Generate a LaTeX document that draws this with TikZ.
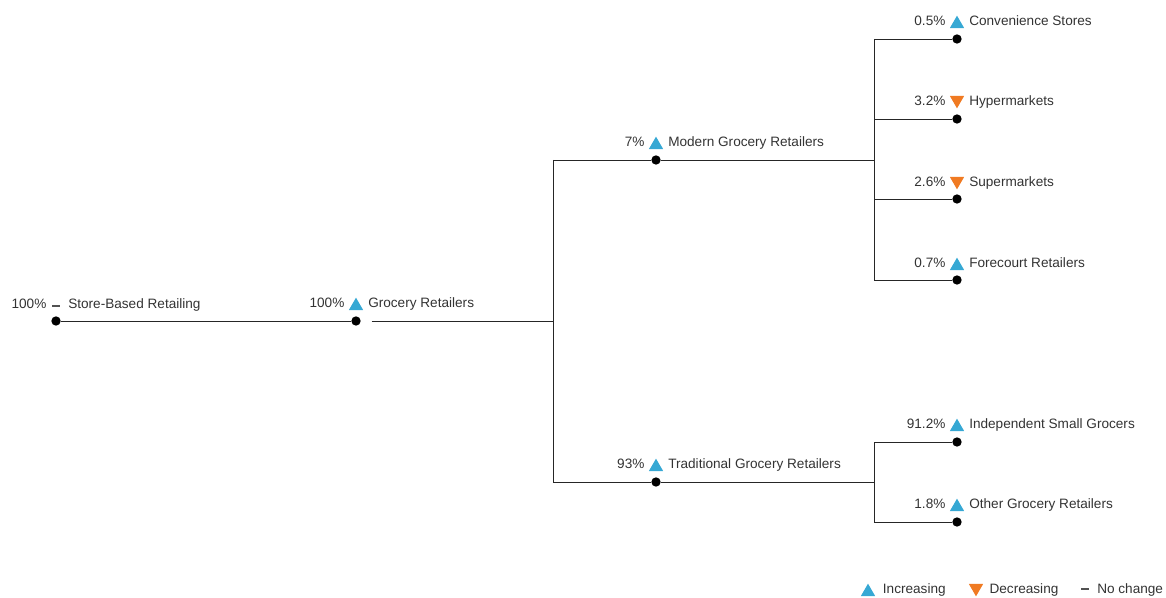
\documentclass[tikz,border=0pt]{standalone}
\usepackage{fontspec}
\setmainfont{Liberation Sans}
\usetikzlibrary{positioning,shapes.geometric}
\definecolor{incblue}{HTML}{36A8D4}
\definecolor{decorange}{HTML}{F07A22}
\definecolor{txtgray}{HTML}{333333}

\begin{document}
\begin{tikzpicture}[x=0.75pt,y=0.75pt,yscale=-1,xscale=1,
  dot/.style={circle,fill=black,inner sep=0pt,minimum size=7pt},
  link/.style={draw=black!85,line width=0.7pt},
  incr/.style={regular polygon,regular polygon sides=3,fill=incblue,inner sep=0pt,minimum size=12.5pt},
  decr/.style={incr,fill=decorange,shape border rotate=180},
  nochg/.style={rectangle,fill=txtgray!85,inner sep=0pt,minimum width=6pt,minimum height=1.2pt},
  txt/.style={font=\fontsize{10.2}{12}\selectfont,text=txtgray,inner sep=0pt,text height=7pt,text depth=2pt}]
\useasboundingbox (0,0) rectangle (1166,598);

% tree dots
\node[dot] (root) at (56,321) {};
\node[dot] (gro) at (356,321) {};
\node[dot] (mod) at (656,160) {};
\node[dot] (trad) at (656,482) {};
\node[dot] (cs) at (957,39) {};
\node[dot] (hyp) at (957,119) {};
\node[dot] (sup) at (957,199) {};
\node[dot] (fc) at (957,280) {};
\node[dot] (isg) at (957,442) {};
\node[dot] (ogr) at (957,522) {};

% branch points
\coordinate (gbr) at (553,321);
\coordinate (mbr) at (874,160);
\coordinate (tbr) at (874,482);

% connectors
\draw[link] (root) -- (gro);
\draw[link,shorten <=8pt] (gro.east) -- (gbr);
\draw[link] (gbr |- mod) -- (gbr |- trad);
\draw[link] (gbr |- mod) -- (mod);
\draw[link] (gbr |- trad) -- (trad);
\draw[link] (mod) -- (mbr);
\draw[link] (trad) -- (tbr);
\draw[link] (mbr |- cs) -- (mbr |- fc);
\draw[link] (mbr |- cs) -- (cs);
\draw[link] (mbr |- hyp) -- (hyp);
\draw[link] (mbr |- sup) -- (sup);
\draw[link] (mbr |- fc) -- (fc);
\draw[link] (tbr |- isg) -- (tbr |- ogr);
\draw[link] (tbr |- isg) -- (isg);
\draw[link] (tbr |- ogr) -- (ogr);

% label centres
\coordinate (rootl) at (56,305);
\coordinate (grol) at (356,304);
\coordinate (modl) at (656,143);
\coordinate (tradl) at (656,465);
\coordinate (csl) at (957,22);
\coordinate (hypl) at (957,102);
\coordinate (supl) at (957,183);
\coordinate (fcl) at (957,264);
\coordinate (isgl) at (957,425);
\coordinate (ogrl) at (957,505);

% labels
\node[nochg] (rootm) at (56,306) {};
\node[txt,left=7pt of rootl] (rootp) {100\%};
\node[txt,right=9pt of rootl] (rootn) {Store-Based Retailing};

\node[incr] (grom) at (356,306) {};
\node[txt,left=8.5pt of grol] (grop) {100\%};
\node[txt,right=9pt of grol] (gron) {Grocery Retailers};

\node[incr] (modm) at (656,145) {};
\node[txt,left=8.5pt of modl] (modp) {7\%};
\node[txt,right=9pt of modl] (modn) {Modern Grocery Retailers};

\node[incr] (tradm) at (656,467) {};
\node[txt,left=8.5pt of tradl] (tradp) {93\%};
\node[txt,right=9pt of tradl] (tradn) {Traditional Grocery Retailers};

\node[incr] (csm) at (957,24) {};
\node[txt,left=8.5pt of csl] (csp) {0.5\%};
\node[txt,right=9pt of csl] (csn) {Convenience Stores};

\node[decr] (hypm) at (957,100) {};
\node[txt,left=8.5pt of hypl] (hypp) {3.2\%};
\node[txt,right=9pt of hypl] (hypn) {Hypermarkets};

\node[decr] (supm) at (957,181) {};
\node[txt,left=8.5pt of supl] (supp) {2.6\%};
\node[txt,right=9pt of supl] (supn) {Supermarkets};

\node[incr] (fcm) at (957,266) {};
\node[txt,left=8.5pt of fcl] (fcp) {0.7\%};
\node[txt,right=9pt of fcl] (fcn) {Forecourt Retailers};

\node[incr] (isgm) at (957,427) {};
\node[txt,left=8.5pt of isgl] (isgp) {91.2\%};
\node[txt,right=9pt of isgl] (isgn) {Independent Small Grocers};

\node[incr] (ogrm) at (957,507) {};
\node[txt,left=8.5pt of ogrl] (ogrp) {1.8\%};
\node[txt,right=9pt of ogrl] (ogrn) {Other Grocery Retailers};

% legend
\coordinate (lgil) at (868,590);
\coordinate (lgdl) at (976,590);
\coordinate (lgnl) at (1085,590);
\node[incr] (lgi) at (868,592) {};
\node[txt,right=11pt of lgil] (lgin) {Increasing};
\node[decr] (lgd) at (976,588) {};
\node[txt,right=10pt of lgdl] (lgdn) {Decreasing};
\node[nochg] (lgn) at (1085,589) {};
\node[txt,right=9pt of lgnl] (lgnn) {No change};
\end{tikzpicture}
\end{document}
